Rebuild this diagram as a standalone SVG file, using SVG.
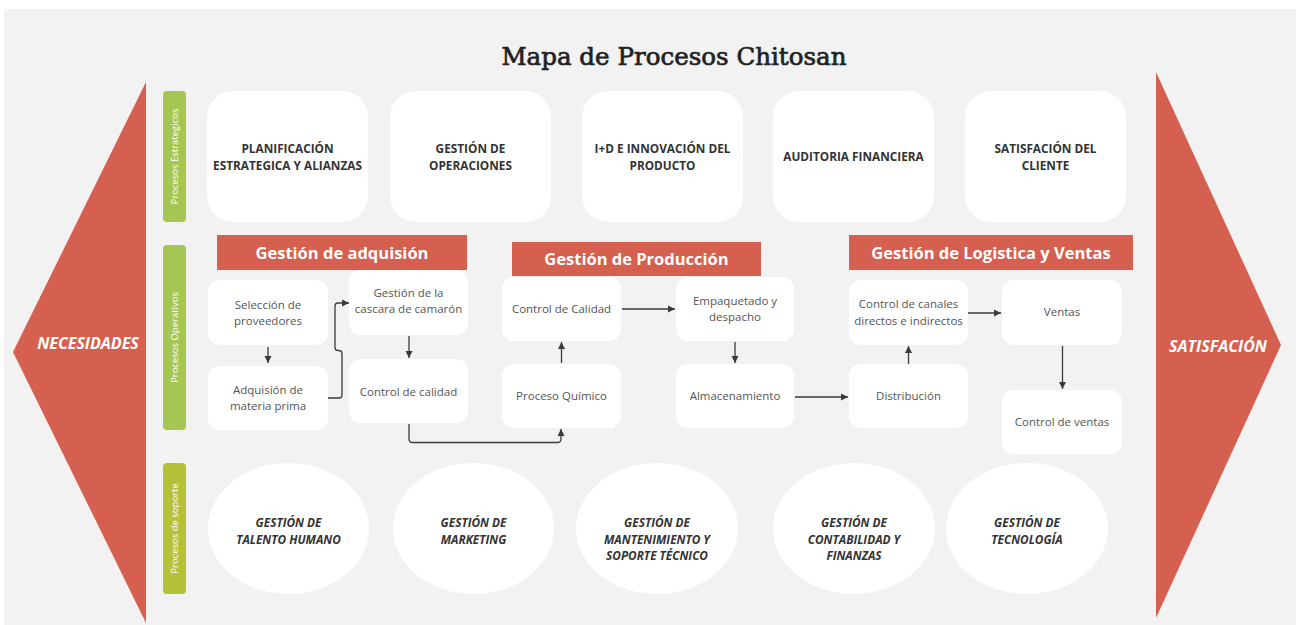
<svg xmlns="http://www.w3.org/2000/svg" width="1296" height="625" viewBox="0 0 1296 625">
  <defs>
    <marker id="arrow" markerUnits="userSpaceOnUse" markerWidth="8" markerHeight="8" refX="7" refY="4" orient="auto">
      <path d="M0,0.5 L7,4 L0,7.5 Z" fill="#3a3a3a"/>
    </marker>
    <style>
      .bg { fill: #f2f2f2; }
      .big-arrow { fill: #d6604f; }
      .band { fill: #d6604f; }
      .band-text { font-family: "Open Sans", "Liberation Sans", sans-serif; font-weight: 700; font-size: 16.5px; fill: #ffffff; text-anchor: middle; }
      .side-text { font-family: "Open Sans", "Liberation Sans", sans-serif; font-weight: 700; font-style: italic; font-size: 16px; fill: #ffffff; text-anchor: middle; }
      .lane { fill: #a6c653; }
      .lane-support { fill: #b6c13a; }
      .lane-text { font-family: "Open Sans", "Liberation Sans", sans-serif; font-size: 9.5px; fill: #ffffff; text-anchor: middle; }
      .strat { fill: #ffffff; }
      .strat-text { font-family: "Open Sans", "Liberation Sans", sans-serif; font-weight: 700; font-size: 11.8px; fill: #333333; text-anchor: middle; }
      .op { fill: #ffffff; }
      .op-text { font-family: "Open Sans", "Liberation Sans", sans-serif; font-size: 11.5px; fill: #555555; text-anchor: middle; }
      .sup { fill: #ffffff; }
      .sup-text { font-family: "Open Sans", "Liberation Sans", sans-serif; font-weight: 700; font-style: italic; font-size: 11.8px; fill: #333333; text-anchor: middle; }
      .title { font-family: "DejaVu Serif", "Liberation Serif", serif; font-size: 24.5px; fill: #222222; stroke: #222222; stroke-width: 0.7; text-anchor: middle; }
      .conn { fill: none; stroke: #3a3a3a; stroke-width: 1.3; marker-end: url(#arrow); }
    </style>
  </defs>

  <!-- canvas -->
  <rect x="0" y="0" width="1296" height="625" fill="#ffffff"/>
  <rect class="bg" x="4" y="9" width="1292" height="616"/>

  <!-- input / output chevrons -->
  <g id="necesidades">
    <polygon class="big-arrow" points="146,82 13,352 146,623"/>
    <text class="side-text" x="88" y="349">NECESIDADES</text>
  </g>
  <g id="satisfacion">
    <polygon class="big-arrow" points="1156,72 1281,345 1156,618"/>
    <text class="side-text" x="1218" y="352">SATISFACIÓN</text>
  </g>

  <text class="title" x="674" y="65" textLength="345">Mapa de Procesos Chitosan</text>

  <!-- lane labels -->
  <g id="lane-estrategicos">
    <rect class="lane" x="163" y="91" width="23" height="131" rx="4"/>
    <text class="lane-text" transform="translate(177.5,156.5) rotate(-90)">Procesos Estrategicos</text>
  </g>
  <g id="lane-operativos">
    <rect class="lane" x="163" y="245" width="23" height="185" rx="4"/>
    <text class="lane-text" transform="translate(177.5,337.5) rotate(-90)">Procesos Operativos</text>
  </g>
  <g id="lane-soporte">
    <rect class="lane-support" x="163" y="463" width="23" height="131" rx="4"/>
    <text class="lane-text" transform="translate(177.5,528.5) rotate(-90)">Procesos de soporte</text>
  </g>

  <!-- strategic processes -->
  <g id="planificacion">
    <rect class="strat" x="207" y="91" width="161" height="131" rx="26"/>
    <text class="strat-text" x="287.5" y="153">PLANIFICACIÓN</text>
    <text class="strat-text" x="287.5" y="170">ESTRATEGICA Y ALIANZAS</text>
  </g>
  <g id="gestion-operaciones">
    <rect class="strat" x="390" y="91" width="161" height="131" rx="26"/>
    <text class="strat-text" x="470.5" y="153">GESTIÓN DE</text>
    <text class="strat-text" x="470.5" y="170">OPERACIONES</text>
  </g>
  <g id="id-innovacion">
    <rect class="strat" x="582" y="91" width="161" height="131" rx="26"/>
    <text class="strat-text" x="662.5" y="153">I+D E INNOVACIÓN DEL</text>
    <text class="strat-text" x="662.5" y="170">PRODUCTO</text>
  </g>
  <g id="auditoria">
    <rect class="strat" x="773" y="91" width="161" height="131" rx="26"/>
    <text class="strat-text" x="853.5" y="161">AUDITORIA FINANCIERA</text>
  </g>
  <g id="satisfacion-cliente">
    <rect class="strat" x="965" y="91" width="161" height="131" rx="26"/>
    <text class="strat-text" x="1045.5" y="153">SATISFACIÓN DEL</text>
    <text class="strat-text" x="1045.5" y="170">CLIENTE</text>
  </g>

  <!-- operative section headers -->
  <g id="hdr-adquision">
    <rect class="band" x="217" y="235" width="250" height="35"/>
    <text class="band-text" x="342" y="259">Gestión de adquisión</text>
  </g>
  <g id="hdr-produccion">
    <rect class="band" x="512" y="242" width="249" height="34"/>
    <text class="band-text" x="636.5" y="265">Gestión de Producción</text>
  </g>
  <g id="hdr-logistica">
    <rect class="band" x="849" y="235" width="284" height="35"/>
    <text class="band-text" x="991" y="259">Gestión de Logistica y Ventas</text>
  </g>

  <!-- operative processes -->
  <g id="seleccion">
    <rect class="op" x="208" y="280" width="120" height="65" rx="12"/>
    <text class="op-text" x="268" y="309">Selección de</text>
    <text class="op-text" x="268" y="325">proveedores</text>
  </g>
  <g id="adquisicion">
    <rect class="op" x="208" y="366" width="120" height="64" rx="12"/>
    <text class="op-text" x="268" y="394">Adquisión de</text>
    <text class="op-text" x="268" y="410">materia prima</text>
  </g>
  <g id="cascara">
    <rect class="op" x="349" y="270" width="119" height="65" rx="12"/>
    <text class="op-text" x="408.5" y="297">Gestión de la</text>
    <text class="op-text" x="408.5" y="313">cascara de camarón</text>
  </g>
  <g id="control-calidad-a">
    <rect class="op" x="349" y="359" width="119" height="64" rx="12"/>
    <text class="op-text" x="408.5" y="396">Control de calidad</text>
  </g>
  <g id="control-calidad-p">
    <rect class="op" x="502" y="277" width="119" height="64" rx="12"/>
    <text class="op-text" x="561.5" y="313">Control de Calidad</text>
  </g>
  <g id="proceso-quimico">
    <rect class="op" x="502" y="364" width="119" height="64" rx="12"/>
    <text class="op-text" x="561.5" y="400">Proceso Químico</text>
  </g>
  <g id="empaquetado">
    <rect class="op" x="676" y="277" width="118" height="64" rx="12"/>
    <text class="op-text" x="735" y="305">Empaquetado y</text>
    <text class="op-text" x="735" y="321">despacho</text>
  </g>
  <g id="almacenamiento">
    <rect class="op" x="676" y="364" width="118" height="64" rx="12"/>
    <text class="op-text" x="735" y="400">Almacenamiento</text>
  </g>
  <g id="canales">
    <rect class="op" x="849" y="280" width="119" height="65" rx="12"/>
    <text class="op-text" x="908.5" y="308">Control de canales</text>
    <text class="op-text" x="908.5" y="325">directos e indirectos</text>
  </g>
  <g id="ventas">
    <rect class="op" x="1002" y="280" width="120" height="65" rx="12"/>
    <text class="op-text" x="1062" y="316">Ventas</text>
  </g>
  <g id="distribucion">
    <rect class="op" x="849" y="364" width="119" height="64" rx="12"/>
    <text class="op-text" x="908.5" y="400">Distribución</text>
  </g>
  <g id="control-ventas">
    <rect class="op" x="1002" y="390" width="120" height="64" rx="12"/>
    <text class="op-text" x="1062" y="426">Control de ventas</text>
  </g>

  <!-- connectors -->
  <g id="connectors">
    <path class="conn" d="M268,347 V363"/>
    <path class="conn" d="M328,398 H339 Q342,398 342,395 V353.5 Q342,350.5 339,350.5 H338 Q335,350.5 335,347.5 V306 Q335,303 338,303 H349"/>
    <path class="conn" d="M409,336 V358"/>
    <path class="conn" d="M409,424 V439 Q409,442.5 412.5,442.5 H557.5 Q561,442.5 561,439 V429"/>
    <path class="conn" d="M561.5,363 V342"/>
    <path class="conn" d="M622,309 H675"/>
    <path class="conn" d="M735,342 V363"/>
    <path class="conn" d="M795,397 H848"/>
    <path class="conn" d="M908.5,364 V346"/>
    <path class="conn" d="M968,313 H1001"/>
    <path class="conn" d="M1062.5,346 V389"/>
  </g>

  <!-- support processes -->
  <g id="talento-humano">
    <ellipse class="sup" cx="288.5" cy="528.5" rx="80.5" ry="65.5"/>
    <text class="sup-text" x="288.5" y="527">GESTIÓN DE</text>
    <text class="sup-text" x="288.5" y="544">TALENTO HUMANO</text>
  </g>
  <g id="marketing">
    <ellipse class="sup" cx="473.5" cy="528.5" rx="80.5" ry="65.5"/>
    <text class="sup-text" x="473.5" y="527">GESTIÓN DE</text>
    <text class="sup-text" x="473.5" y="544">MARKETING</text>
  </g>
  <g id="mantenimiento">
    <ellipse class="sup" cx="657" cy="528.5" rx="81" ry="65.5"/>
    <text class="sup-text" x="657" y="527">GESTIÓN DE</text>
    <text class="sup-text" x="657" y="543.5">MANTENIMIENTO Y</text>
    <text class="sup-text" x="657" y="560">SOPORTE TÉCNICO</text>
  </g>
  <g id="contabilidad">
    <ellipse class="sup" cx="854" cy="528.5" rx="81" ry="65.5"/>
    <text class="sup-text" x="854" y="527">GESTIÓN DE</text>
    <text class="sup-text" x="854" y="543.5">CONTABILIDAD Y</text>
    <text class="sup-text" x="854" y="560">FINANZAS</text>
  </g>
  <g id="tecnologia">
    <ellipse class="sup" cx="1027" cy="528.5" rx="81" ry="65.5"/>
    <text class="sup-text" x="1027" y="527">GESTIÓN DE</text>
    <text class="sup-text" x="1027" y="544">TECNOLOGÍA</text>
  </g>
</svg>
